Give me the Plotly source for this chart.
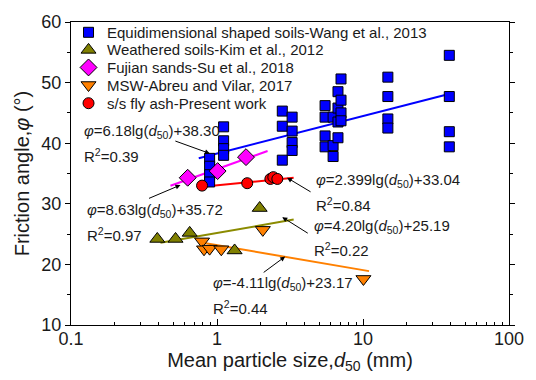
import numpy as np
import plotly.graph_objects as go

# Equidimensional shaped soils (Wang et al., 2013)
wang_d50 = [0.89, 0.89, 0.89, 0.89, 1.11, 1.11, 1.11, 1.11,
            2.8, 2.8, 2.8, 3.27, 3.27, 3.27, 3.27,
            5.5, 5.5, 5.5, 5.5, 6.24, 6.24, 6.24,
            6.74, 6.74, 6.74, 6.74, 7.07, 7.07, 7.07, 7.07,
            14.8, 14.8, 14.8, 14.8, 39.0, 39.0, 39.0, 39.0]
wang_phi = [37.5, 36.2, 34.8, 33.6, 42.7, 40.4, 39.1, 38.0,
            45.3, 42.8, 37.2, 44.3, 42.0, 40.1, 38.8,
            46.2, 44.3, 41.2, 39.4, 44.3, 39.6, 37.8,
            48.5, 45.8, 43.5, 40.9, 50.6, 47.1, 45.0, 43.7,
            50.9, 47.7, 44.0, 42.5, 54.5, 47.7, 41.9, 39.4]

# Weathered soils (Kim et al., 2012)
kim_d50 = [0.39, 0.52, 0.65, 1.32, 1.96]
kim_phi = [24.2, 24.2, 25.2, 22.3, 29.3]

# Fujian sands (Su et al., 2018)
su_d50 = [0.63, 1.01, 1.58]
su_phi = [34.3, 35.4, 37.7]

# MSW (Abreu and Vilar, 2017)
msw_d50 = [0.79, 0.815, 0.89, 1.07, 2.06, 10.07]
msw_phi = [23.8, 22.5, 22.6, 22.5, 25.7, 17.6]

# s/s fly ash (present work)
ash_d50 = [0.79, 1.61, 2.32, 2.43, 2.59]
ash_phi = [33.0, 33.4, 34.1, 34.4, 34.1]

# Logarithmic fits phi = a*lg(d50) + b and the d50 span each one covers
fit_wang = (6.18, 38.30, 0.75, 40.0)
fit_su = (8.63, 35.72, 0.48, 2.22)
fit_ash = (2.399, 33.04, 0.73, 3.35)
fit_kim = (4.20, 25.19, 0.41, 3.35)
fit_msw = (-4.11, 23.17, 0.80, 11.0)

FONT = "Liberation Sans, Arial, sans-serif"
TXT = "#1a1a1a"

fig = go.Figure()

series = [
    ("Equidimensional shaped soils-Wang et al., 2013", wang_d50, wang_phi, "square", "#0000FF", 10),
    ("Weathered soils-Kim et al., 2012", kim_d50, kim_phi, "triangle-up", "#808000", 13),
    ("Fujian sands-Su et al., 2018", su_d50, su_phi, "diamond", "#FF00FF", 13),
    ("MSW-Abreu and Vilar, 2017", msw_d50, msw_phi, "triangle-down", "#FF8000", 13),
    ("s/s fly ash-Present work", ash_d50, ash_phi, "circle", "#FF0000", 11),
]

fits = [
    (fit_wang, "#0000FF"),
    (fit_kim, "#8B8B00"),
    (fit_su, "#FF00FF"),
    (fit_msw, "#FF8000"),
    (fit_ash, "#FF0000"),
]

for (a, b, lo, hi), col in fits:
    xs = np.logspace(np.log10(lo), np.log10(hi), 30)
    fig.add_trace(go.Scatter(x=xs, y=a * np.log10(xs) + b, mode="lines",
                             line=dict(color=col, width=2), showlegend=False,
                             hoverinfo="skip"))

for name, xs, ys, sym, col, sz in series:
    fig.add_trace(go.Scatter(x=xs, y=ys, mode="markers", name=name, showlegend=False,
                             marker=dict(symbol=sym, color=col, size=sz,
                                         line=dict(color="black", width=1))))

# Key in the upper-left corner, drawn on an overlay axis spanning 0..1
key_x, key_text_x = 0.040, 0.078
key_rows = [0.966, 0.908, 0.850, 0.792, 0.732]
for (name, _, _, sym, col, sz), ky in zip(series, key_rows):
    fig.add_trace(go.Scatter(x=[key_x], y=[ky], xaxis="x2", yaxis="y2", mode="markers",
                             showlegend=False, hoverinfo="skip",
                             marker=dict(symbol=sym, color=col, size=sz,
                                         line=dict(color="black", width=1))))
    fig.add_annotation(x=key_text_x, y=ky, xref="x2", yref="y2", text=name,
                       showarrow=False, xanchor="left", yanchor="middle",
                       font=dict(family=FONT, size=15, color=TXT))

# Equation labels: (text, lg(x) of left edge, y)
labels = [
    ("<i>φ</i>=6.18lg(<i>d</i><sub>50</sub>)+38.30", -0.926, 42.0),
    ("R<sup>2</sup>=0.39", -0.926, 38.0),
    ("<i>φ</i>=8.63lg(<i>d</i><sub>50</sub>)+35.72", -0.906, 28.9),
    ("R<sup>2</sup>=0.97", -0.906, 25.0),
    ("<i>φ</i>=2.399lg(<i>d</i><sub>50</sub>)+33.04", 0.661, 33.8),
    ("R<sup>2</sup>=0.84", 0.661, 29.9),
    ("<i>φ</i>=4.20lg(<i>d</i><sub>50</sub>)+25.19", 0.648, 26.3),
    ("R<sup>2</sup>=0.22", 0.648, 22.5),
    ("<i>φ</i>=-4.11lg(<i>d</i><sub>50</sub>)+23.17", -0.042, 16.8),
    ("R<sup>2</sup>=0.44", -0.042, 12.9),
]
for txt, lx, ly in labels:
    fig.add_annotation(x=lx, y=ly, xref="x", yref="y", text=txt, showarrow=False,
                       xanchor="left", yanchor="middle",
                       font=dict(family=FONT, size=15, color=TXT))

# Pointer arrows: (lg(x) of head, y of head, tail offset px)
arrows = [
    (-0.049, 38.3, -36, -13),
    (-0.25, 33.1, -33, 14),
    (0.480, 34.3, 25, 15),
    (0.447, 27.8, 27, 17),
    (0.467, 21.3, -23, 17),
]
for hx, hy, ax, ay in arrows:
    fig.add_annotation(x=hx, y=hy, xref="x", yref="y", ax=ax, ay=ay, text="",
                       showarrow=True, arrowhead=2, arrowsize=1, arrowwidth=1,
                       arrowcolor="black")

fig.update_layout(
    width=536, height=380,
    margin=dict(l=71, r=16, t=16, b=55),
    paper_bgcolor="white", plot_bgcolor="white",
    font=dict(family=FONT, color=TXT),
    showlegend=False,
    xaxis2=dict(overlaying="x", range=[0, 1], visible=False, fixedrange=True),
    yaxis2=dict(overlaying="y", range=[0, 1], visible=False, fixedrange=True),
)

fig.layout.xaxis.update(
    type="log", range=[-1, 2],
    tickvals=[0.1, 1, 10, 100], ticktext=["0.1", "1", "10", "100"],
    ticks="inside", ticklen=6, tickwidth=1, tickcolor="black",
    ticklabelstandoff=-3,
    minor=dict(ticks="inside", ticklen=3, tickcolor="black", dtick="D1", showgrid=False),
    showline=True, linecolor="black", linewidth=1, mirror=True,
    showgrid=False, zeroline=False,
    tickfont=dict(family=FONT, size=18, color=TXT),
    title=dict(text="Mean particle size,<i>d</i><sub>50</sub> (mm)",
               font=dict(family=FONT, size=20, color=TXT), standoff=2),
)
fig.layout.yaxis.update(
    range=[10, 60], dtick=10,
    ticks="outside", ticklen=5, tickwidth=1, tickcolor="black",
    minor=dict(ticks="outside", ticklen=3, tickcolor="black", dtick=5, showgrid=False),
    showline=True, linecolor="black", linewidth=1, mirror="ticks",
    showgrid=False, zeroline=False,
    tickfont=dict(family=FONT, size=18, color=TXT),
    title=dict(text="Friction angle,<i>φ</i> (°)",
               font=dict(family=FONT, size=20, color=TXT), standoff=6),
)

fig.write_html("out.html")
